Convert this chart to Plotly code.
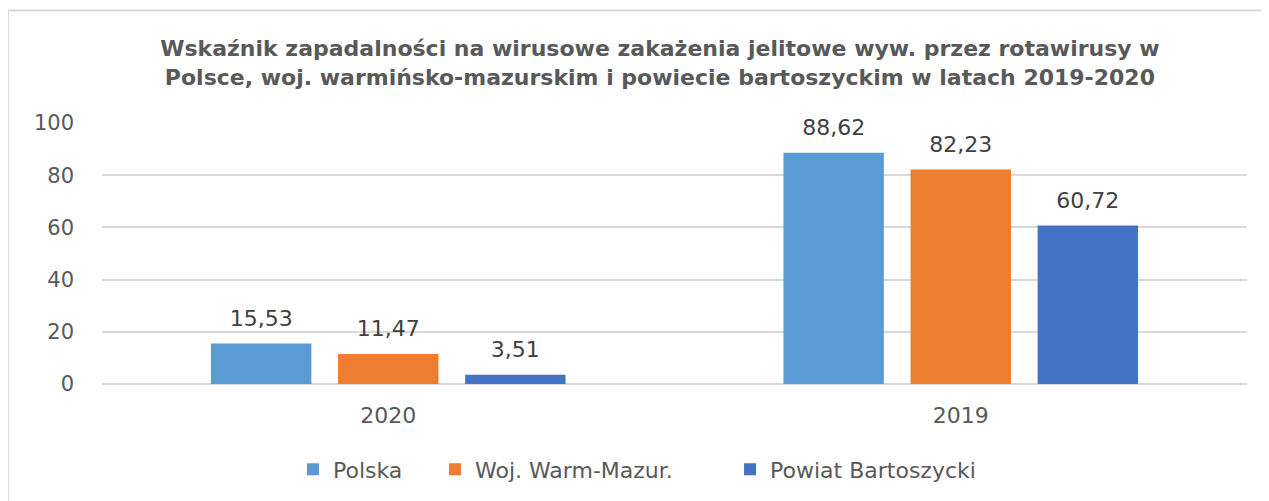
import plotly.graph_objects as go

years = ["2020", "2019"]
polska = [15.53, 88.62]
warm_maz = [11.47, 82.23]
bartoszycki = [3.51, 60.72]

series_names = ["Polska", "Woj. Warm-Mazur.", "Powiat Bartoszycki"]
colors = ["#5B9BD5", "#ED7D31", "#4472C4"]
all_vals = [polska, warm_maz, bartoszycki]

# one legend per series so the entries can be spaced like the original
legend_ids = ["legend", "legend2", "legend3"]
legend_x = [0.1668, 0.2908, 0.5485]

fig = go.Figure()
for name, vals, col, lg in zip(series_names, all_vals, colors, legend_ids):
    fig.add_trace(go.Bar(
        x=years, y=vals, name=name, offsetgroup=name, legend=lg,
        marker=dict(color=col, line=dict(width=0)),
    ))

# value labels: invisible markers grouped like the bars, text sits above them
for name, vals in zip(series_names, all_vals):
    fig.add_trace(go.Scatter(
        x=years, y=vals, offsetgroup=name, mode="markers+text",
        marker=dict(size=18, opacity=0),
        texttemplate="%{y:.2f}", textposition="top center",
        textfont=dict(family="DejaVu Sans", size=22, color="#404040"),
        showlegend=False, hoverinfo="skip", cliponaxis=False,
    ))

# light frame round the chart area
fig.add_shape(type="line", xref="paper", yref="paper",
              x0=-0.0821, x1=1.03, y0=1.431, y1=1.431,
              line=dict(color="#D9D9D9", width=2))
fig.add_shape(type="line", xref="paper", yref="paper",
              x0=-0.0821, x1=-0.0821, y0=1.431, y1=-0.45,
              line=dict(color="#D9D9D9", width=2))

legend_style = dict(orientation="h", xanchor="left", y=-0.322, yanchor="middle",
                    font=dict(family="DejaVu Sans", size=22, color="#595959"),
                    itemwidth=30, borderwidth=0, bgcolor="rgba(0,0,0,0)")

# page body adds 8px margin, so figure is a bit smaller than the window
fig.update_layout(
    width=1261, height=493,
    margin=dict(l=94, r=22, t=115, b=116),
    paper_bgcolor="white", plot_bgcolor="white",
    separators=", ",
    barmode="group", bargap=0.334, bargroupgap=0.21,
    scattermode="group", scattergap=0.334,
    title=dict(
        text="Wskaźnik zapadalności na wirusowe zakażenia jelitowe wyw. przez rotawirusy w<br>"
             "Polsce, woj. warmińsko-mazurskim i powiecie bartoszyckim w latach 2019-2020",
        x=0.517, xanchor="center", y=0.902, yanchor="middle",
        font=dict(family="DejaVu Sans", size=22, color="#595959", weight="bold"),
    ),
    font=dict(family="DejaVu Sans", size=22, color="#595959"),
    showlegend=True,
    legend=dict(x=legend_x[0], **legend_style),
    legend2=dict(x=legend_x[1], **legend_style),
    legend3=dict(x=legend_x[2], **legend_style),
)
fig.update_xaxes(showgrid=False, showline=False, ticks="", ticklabelstandoff=16,
                 tickfont=dict(size=22, color="#595959"))
fig.update_yaxes(range=[0, 100], dtick=20, showgrid=True, gridcolor="#D9D9D9", gridwidth=1.5,
                 zeroline=True, zerolinecolor="#D9D9D9", zerolinewidth=1.5,
                 showline=False, ticks="", ticklabelstandoff=27,
                 tickfont=dict(size=21, color="#595959"))

fig.write_html("out.html")
